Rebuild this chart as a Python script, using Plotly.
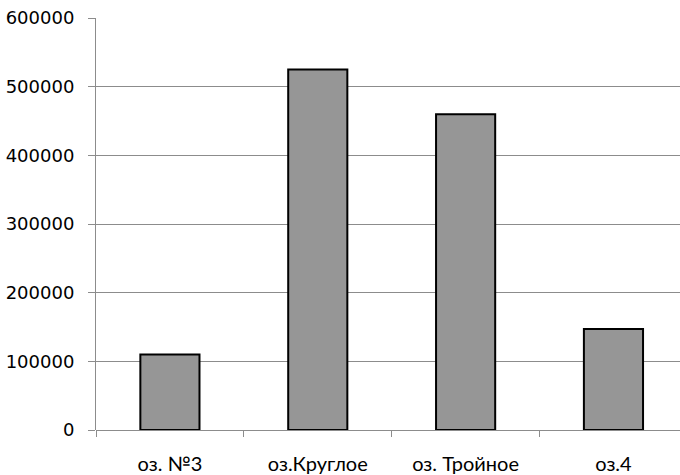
import plotly.graph_objects as go

lakes = ["оз. №3", "оз.Круглое", "оз. Тройное", "оз.4"]
amounts = [110000, 525000, 460000, 147000]
y_ticks = [0, 100000, 200000, 300000, 400000, 500000, 600000]
y_labels = ["0", "100000", "200000", "300000", "400000", "500000", "600000"]

grid_col = "#8c8c8c"

fig = go.Figure(
    go.Bar(
        x=lakes,
        y=amounts,
        marker=dict(color="#969696", line=dict(color="black", width=2)),
        width=0.4,
    )
)

fig.update_layout(
    width=680,
    height=475,
    margin=dict(l=96, r=0, t=18, b=45),
    paper_bgcolor="white",
    plot_bgcolor="white",
    showlegend=False,
    font=dict(color="black"),
)

fig.update_xaxes(
    range=[-0.5, 3.45],
    tickson="boundaries",
    ticks="outside",
    ticklen=6,
    tickcolor=grid_col,
    showline=False,
    showgrid=False,
    tickfont=dict(family="Lato", size=20, color="black"),
    ticklabelstandoff=20,
)

fig.update_yaxes(
    range=[0, 600000],
    tickvals=y_ticks,
    ticktext=y_labels,
    ticks="outside",
    ticklen=7,
    tickcolor=grid_col,
    showline=True,
    linecolor=grid_col,
    linewidth=1,
    showgrid=True,
    gridcolor=grid_col,
    gridwidth=1,
    zeroline=True,
    zerolinecolor=grid_col,
    zerolinewidth=1,
    tickfont=dict(family="DejaVu Sans", size=18, color="black"),
    ticklabelstandoff=10,
)

fig.write_html("out.html")
